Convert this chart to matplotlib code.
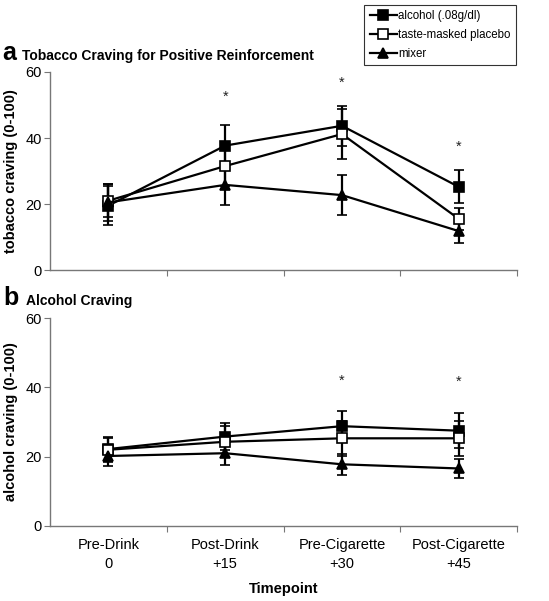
import matplotlib
matplotlib.use("Agg")
import matplotlib.pyplot as plt
from matplotlib.lines import Line2D

plt.rcParams["font.family"] = ["Liberation Sans", "DejaVu Sans"]

timepoints = ["Pre-Drink\n0", "Post-Drink\n+15", "Pre-Cigarette\n+30", "Post-Cigarette\n+45"]
series = ["alcohol (.08g/dl)", "taste-masked placebo", "mixer"]

# panel a: tobacco craving
tob_alcohol = [19.5, 37.7, 43.7, 25.2]
tob_alcohol_err = [6.0, 6.2, 6.0, 5.0]
tob_placebo = [21.0, 31.5, 41.2, 15.5]
tob_placebo_err = [5.0, 6.0, 7.5, 3.3]
tob_mixer = [20.5, 25.8, 22.7, 11.8]
tob_mixer_err = [5.5, 6.0, 6.0, 3.5]
tob_star_x = [1, 2, 3]
tob_star_y = [52.4, 56.7, 37.3]

# panel b: alcohol craving
alc_alcohol = [22.2, 25.8, 28.8, 27.5]
alc_alcohol_err = [3.5, 4.0, 4.5, 5.0]
alc_placebo = [22.0, 24.3, 25.3, 25.3]
alc_placebo_err = [3.5, 4.5, 5.0, 5.0]
alc_mixer = [20.2, 21.0, 17.8, 16.6]
alc_mixer_err = [3.0, 3.3, 3.0, 2.7]
alc_star_x = [2, 3]
alc_star_y = [41.8, 41.6]

markers = ["s", "s", "^"]
faces = ["black", "white", "black"]

fig = plt.figure(figsize=(5.49, 6.01), dpi=100)
ax_a = fig.add_axes([0.091, 0.5507, 0.851, 0.3295])
ax_b = fig.add_axes([0.091, 0.1248, 0.851, 0.346])


def draw(ax, vals, errs, star_x, star_y, ylabel):
    x = list(range(len(timepoints)))
    for v, e, m, fc in zip(vals, errs, markers, faces):
        ax.errorbar(x, v, yerr=e, color="black", lw=1.6, marker=m, ms=6.5,
                    mfc=fc, mec="black", mew=1.2, capsize=3.5, capthick=1.6,
                    elinewidth=1.6)
    for sx, sy in zip(star_x, star_y):
        ax.text(sx, sy, "*", ha="center", va="center", fontsize=10.5,
                color="#222222")
    ax.set_xlim(-0.5, 3.5)
    ax.set_ylim(0, 60)
    ax.set_yticks([0, 20, 40, 60])
    ax.set_xticks([0.5, 1.5, 2.5, 3.5])
    ax.set_xticklabels([])
    for s in ("top", "right"):
        ax.spines[s].set_visible(False)
    for s in ("left", "bottom"):
        ax.spines[s].set_color("#777777")
        ax.spines[s].set_linewidth(1.0)
    ax.tick_params(axis="both", direction="out", length=4, color="#777777",
                   labelsize=10.5, pad=2)
    ax.set_ylabel(ylabel, fontsize=10.5, fontweight="bold", labelpad=5)


draw(ax_a, [tob_alcohol, tob_placebo, tob_mixer],
     [tob_alcohol_err, tob_placebo_err, tob_mixer_err],
     tob_star_x, tob_star_y, "tobacco craving (0-100)")
draw(ax_b, [alc_alcohol, alc_placebo, alc_mixer],
     [alc_alcohol_err, alc_placebo_err, alc_mixer_err],
     alc_star_x, alc_star_y, "alcohol craving (0-100)")

for i, lab in enumerate(timepoints):
    ax_b.text(i, -3.5, lab, ha="center", va="top", fontsize=10.5,
              linespacing=1.45)
ax_b.text(1.5, -16.3, "Timepoint", ha="center", va="top", fontsize=10.5,
          fontweight="bold")

fig.text(0.004, 0.9, "a", fontsize=18, fontweight="bold")
fig.text(0.040, 0.9, "Tobacco Craving for Positive Reinforcement", fontsize=10,
         fontweight="bold")
fig.text(0.006, 0.492, "b", fontsize=18, fontweight="bold")
fig.text(0.047, 0.492, "Alcohol Craving", fontsize=10, fontweight="bold")

handles = [Line2D([], [], color="black", lw=1.6, marker=m, ms=6.5, mfc=fc,
                  mec="black", mew=1.2) for m, fc in zip(markers, faces)]
leg = fig.legend(handles, series, loc="upper right",
                 bbox_to_anchor=(0.944, 0.996), fontsize=8.3, frameon=True,
                 fancybox=False, handlelength=2.4, handletextpad=0.1,
                 borderpad=0.45, labelspacing=0.6, borderaxespad=0.2)
leg.get_frame().set_edgecolor("black")
leg.get_frame().set_linewidth(0.8)

fig.savefig("out.png", dpi=100)
